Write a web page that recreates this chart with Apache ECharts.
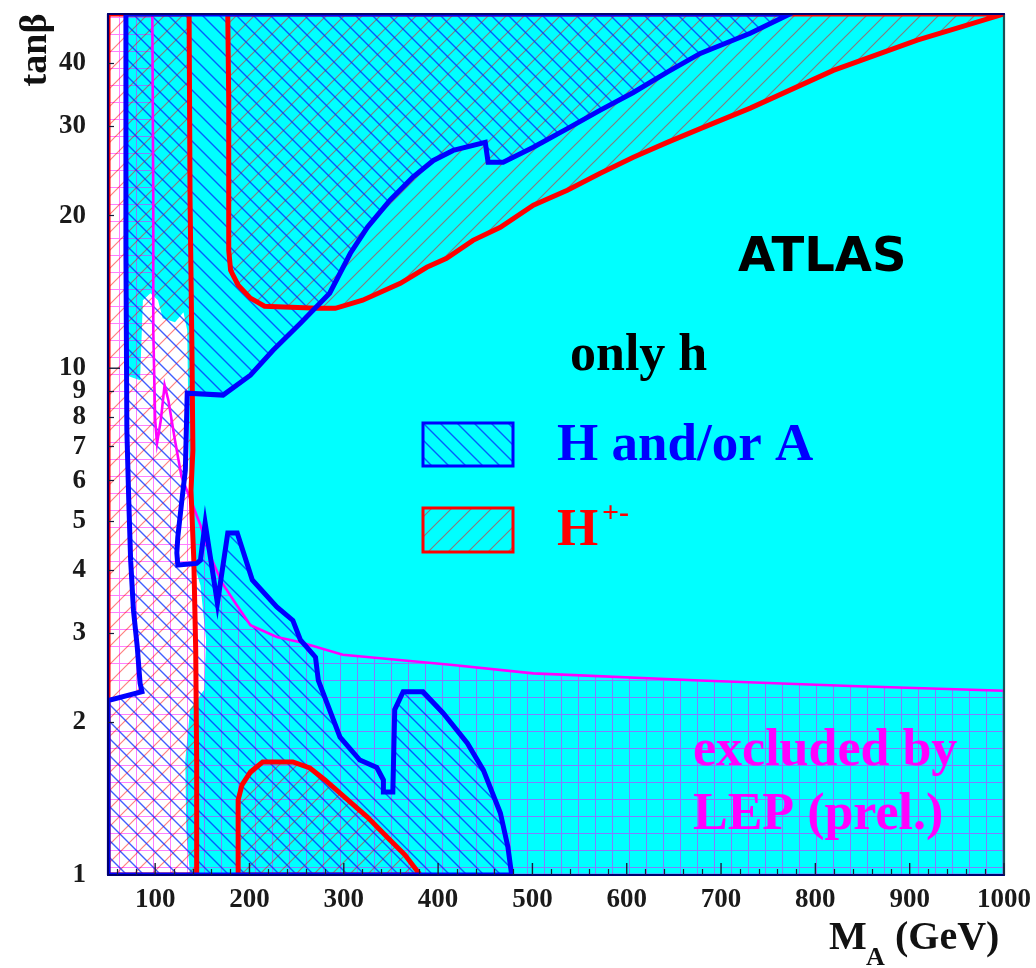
<!DOCTYPE html>
<html>
<head>
<meta charset="utf-8">
<script src="https://cdn.jsdelivr.net/npm/echarts@6/dist/echarts.min.js"></script>
<style>
html, body { margin: 0; padding: 0; background: #fff; }
#chart { width: 1036px; height: 968px; }
</style>
</head>
<body>
<div id="chart"></div>
<script>
// Axis ranges and tick labels
const massRange = [50, 1000];
const tanbRange = [1, 50];
const massLabels = [100, 200, 300, 400, 500, 600, 700, 800, 900, 1000];
const tanbLabels = [1, 2, 3, 4, 5, 6, 7, 8, 9, 10, 20, 30, 40];
const tanbMinorTicks = [2, 3, 4, 5, 6, 7, 8, 9, 20, 30, 40];
const tanbMajorTicks = [10];
const massMinorTicks = [];
for (let m = 60; m < 1000; m += 20) if (m % 100 !== 0) massMinorTicks.push(m);

// Region where only the light Higgs h is visible (cyan), [M_A, tanb]
const onlyHEdge = [
  [68, 50], [1000, 50], [1000, 1], [137, 1], [133, 1.227], [132, 1.686], [137, 2.12],
  [152, 2.32], [154, 2.91], [148, 3.73], [140, 4.18], [136, 6.29], [134, 11.88],
  [130, 12.9], [121, 12.32], [108, 12.55], [103, 13.62], [95, 14.06], [87, 13.62],
  [84, 9.47], [69, 9.69]
];

// H and/or A discovery region (closed contour)
const hAContour = [
  [69, 50], [69, 17.1], [70, 7.55], [72, 5.49], [74, 4.18], [77, 3.33], [81, 2.82],
  [84, 2.39], [86, 2.30], [50, 2.21], [50, 1], [478, 1],
  [474, 1.136], [466, 1.325], [448, 1.61], [431, 1.82], [405, 2.09], [384, 2.30],
  [363, 2.30], [354, 2.12], [352, 1.458], [342, 1.458], [342, 1.54], [335, 1.63],
  [317, 1.686], [296, 1.87], [273, 2.42], [270, 2.69], [254, 2.91], [246, 3.18],
  [229, 3.38], [203, 3.82], [187, 4.73], [177, 4.73], [166, 3.44], [153, 4.95],
  [148, 4.18], [144, 4.12], [124, 4.09], [123, 4.32], [124, 4.64], [128, 5.42],
  [132, 6.29], [134, 8.93], [172, 8.85], [201, 9.69], [225, 10.85], [254, 12.27],
  [285, 14.06], [307, 16.86], [325, 18.97], [349, 21.45], [373, 23.8], [395, 25.7],
  [416, 26.9], [450, 27.9], [453, 25.5], [469, 25.5], [501, 27.3], [537, 29.7],
  [572, 32.3], [607, 35.0], [643, 38.4], [678, 41.8], [731, 45.8], [773, 50]
];

// Charged Higgs discovery regions
const hChargedLow = [
  [50, 50], [136, 50], [137, 21.45], [139, 10.85], [140, 6.89], [138, 5.74],
  [141, 4.18], [143, 2.78], [144, 1.686], [144, 1], [50, 1]
];
const hChargedHigh = [
  [177, 50], [178, 33.8], [178, 17.1], [180, 15.6], [188, 14.58], [201, 13.75],
  [216, 13.25], [272, 13.13], [291, 13.13], [320, 13.62], [360, 14.71], [388, 15.82],
  [409, 16.48], [437, 17.88], [466, 18.97], [501, 20.97], [537, 22.44], [572, 24.25],
  [607, 26.08], [643, 27.9], [678, 29.7], [731, 32.6], [819, 38.7], [908, 44.4],
  [1000, 50]
];
const hChargedDome = [
  [188, 1], [188, 1.172], [188, 1.406], [192, 1.505], [201, 1.597], [214, 1.671],
  [246, 1.671], [264, 1.626], [280, 1.54], [296, 1.451], [325, 1.301], [349, 1.172],
  [365, 1.095], [381, 1]
];

// LEP (preliminary) exclusion boundary
const lepEdge = [
  [97, 50], [98, 21.45], [98, 11.88], [100, 7.90], [102, 7.11], [106, 7.90],
  [110, 9.26], [114, 8.65], [121, 7.21], [128, 6.10], [139, 5.42], [148, 4.90],
  [158, 4.28], [171, 3.77], [185, 3.44], [201, 3.11], [229, 2.95], [254, 2.88],
  [299, 2.72], [413, 2.60], [501, 2.50], [678, 2.42], [837, 2.36], [1000, 2.31]
];
const lepRegion = lepEdge.concat([[1000, 1], [50, 1], [50, 50]]);

// Hatch tiles
function makeTile(size, paint) {
  const c = document.createElement('canvas');
  c.width = size; c.height = size;
  paint(c.getContext('2d'), size);
  return c;
}
const gridTile = makeTile(17, (g, s) => {
  g.strokeStyle = 'rgba(255,0,255,0.5)'; g.lineWidth = 1;
  g.beginPath();
  g.moveTo(0.5, 0); g.lineTo(0.5, s);
  g.moveTo(1, 0.5); g.lineTo(s, 0.5);
  g.stroke();
});
function slashTile(size, color, width) {
  return makeTile(size, (g, s) => {
    g.strokeStyle = color; g.lineWidth = width;
    g.beginPath();
    g.moveTo(-1, s + 1); g.lineTo(s + 1, -1);
    g.moveTo(-1, 1); g.lineTo(1, -1);
    g.moveTo(s - 1, s + 1); g.lineTo(s + 1, s - 1);
    g.stroke();
  });
}
function backslashTile(size, color, width) {
  return makeTile(size, (g, s) => {
    g.strokeStyle = color; g.lineWidth = width;
    g.beginPath();
    g.moveTo(-1, -1); g.lineTo(s + 1, s + 1);
    g.moveTo(s - 1, -1); g.lineTo(s + 1, 1);
    g.moveTo(-1, s - 1); g.lineTo(1, s + 1);
    g.stroke();
  });
}
const redTile = slashTile(18, 'rgba(255,0,0,0.5)', 1.2);
const blueTile = backslashTile(17, 'rgba(0,40,255,0.75)', 1.4);
const pattern = (tile) => ({ image: tile, repeat: 'repeat' });

const CYAN = '#00ffff', BLUE = '#0000ff', RED = '#ff0000', MAGENTA = '#ff00ff';

// One custom series per shape; the whole outline is drawn from the first item
function shapeSeries(name, pts, kind, style, z) {
  return {
    type: 'custom', name, coordinateSystem: 'cartesian2d', clip: true, silent: true, z,
    data: pts,
    renderItem(params, api) {
      if (params.dataIndex !== 0) return null;
      return { type: kind, shape: { points: pts.map(p => api.coord(p)) }, style };
    }
  };
}

const series = [
  shapeSeries('only h', onlyHEdge, 'polygon', { fill: CYAN }, 1),
  shapeSeries('LEP fill', lepRegion, 'polygon', { fill: pattern(gridTile) }, 2),
  shapeSeries('H+- low fill', hChargedLow, 'polygon', { fill: pattern(redTile) }, 3),
  shapeSeries('H+- high fill', hChargedHigh, 'polygon', { fill: pattern(redTile) }, 3),
  shapeSeries('H+- dome fill', hChargedDome, 'polygon', { fill: pattern(redTile) }, 3),
  shapeSeries('H/A fill', hAContour, 'polygon', { fill: pattern(blueTile) }, 4),
  shapeSeries('LEP edge', lepRegion, 'polygon', { fill: null, stroke: MAGENTA, lineWidth: 2.6 }, 5),
  shapeSeries('H+- low edge', hChargedLow, 'polygon', { fill: null, stroke: RED, lineWidth: 5 }, 6),
  shapeSeries('H+- high edge', hChargedHigh, 'polygon', { fill: null, stroke: RED, lineWidth: 5 }, 6),
  shapeSeries('H+- dome edge', hChargedDome, 'polygon', { fill: null, stroke: RED, lineWidth: 5 }, 6),
  shapeSeries('H/A edge', hAContour, 'polygon', { fill: null, stroke: BLUE, lineWidth: 5 }, 7),
  {
    type: 'custom', name: 'mass major ticks', coordinateSystem: 'cartesian2d', silent: true, z: 12,
    data: massLabels,
    renderItem(params, api) {
      const p = api.coord([api.value(0), tanbRange[0]]);
      return { type: 'line', shape: { x1: p[0], y1: p[1], x2: p[0], y2: p[1] - 12 },
               style: { stroke: '#1a1a3a', lineWidth: 1.4 } };
    },
    encode: { x: 0 }
  },
  {
    type: 'custom', name: 'tanb major ticks', coordinateSystem: 'cartesian2d', silent: true, z: 12,
    data: tanbMajorTicks.map(v => [massRange[0], v]),
    renderItem(params, api) {
      const p = api.coord([massRange[0], api.value(1)]);
      return { type: 'line', shape: { x1: p[0], y1: p[1], x2: p[0] + 12, y2: p[1] },
               style: { stroke: '#1a1a3a', lineWidth: 1.4 } };
    }
  }
];

const FRAME = '#000070';
const tickFont = { fontFamily: 'Liberation Serif', fontSize: 27, fontWeight: 'bold', color: '#1a1a1a',
                   formatter: (v) => String(v) };

const option = {
  animation: false,
  backgroundColor: '#ffffff',
  grid: { left: 108, right: 32, top: 14, bottom: 93, containLabel: false, outerBoundsMode: 'none' },
  xAxis: [
    {
      type: 'value', min: massRange[0], max: massRange[1], position: 'bottom', z: 10,
      axisLine: { show: true, lineStyle: { color: FRAME, width: 2.2 } },
      axisTick: { show: true, inside: true, length: 6, customValues: massMinorTicks,
                  lineStyle: { color: '#1a1a3a', width: 1.2 } },
      axisLabel: Object.assign({ customValues: massLabels, margin: 12 }, tickFont),
      splitLine: { show: false }
    },
    {
      type: 'value', min: massRange[0], max: massRange[1], position: 'top', z: 10,
      axisLine: { show: true, lineStyle: { color: FRAME, width: 2.2 } },
      axisTick: { show: false }, axisLabel: { show: false }, splitLine: { show: false }
    }
  ],
  yAxis: [
    {
      type: 'log', logBase: 10, min: tanbRange[0], max: tanbRange[1], position: 'left', z: 10,
      axisLine: { show: true, lineStyle: { color: FRAME, width: 2.2 } },
      axisTick: { show: true, inside: true, length: 6, customValues: tanbMinorTicks,
                  lineStyle: { color: '#1a1a3a', width: 1.2 } },
      axisLabel: Object.assign({ customValues: tanbLabels, margin: 22 }, tickFont),
      splitLine: { show: false }, minorSplitLine: { show: false }
    },
    {
      type: 'log', logBase: 10, min: tanbRange[0], max: tanbRange[1], position: 'right', z: 10,
      axisLine: { show: true, lineStyle: { color: '#1f4f55', width: 2.2 } },
      axisTick: { show: false }, axisLabel: { show: false }, splitLine: { show: false }
    }
  ],
  series,
  graphic: [
    // axis titles
    { type: 'text', x: 36, y: 50, rotation: Math.PI / 2, z: 30,
      style: { text: 'tanβ', font: 'bold 38px "Liberation Serif"', fill: '#111', align: 'center', verticalAlign: 'middle' } },
    { type: 'text', x: 829, y: 939, z: 30,
      style: { text: 'M', font: 'bold 40px "Liberation Serif"', fill: '#111', align: 'left', verticalAlign: 'middle' } },
    { type: 'text', x: 866, y: 958, z: 30,
      style: { text: 'A', font: 'bold 26px "Liberation Serif"', fill: '#111', align: 'left', verticalAlign: 'middle' } },
    { type: 'text', x: 895, y: 939, z: 30,
      style: { text: '(GeV)', font: 'bold 40px "Liberation Serif"', fill: '#111', align: 'left', verticalAlign: 'middle' } },
    // annotations
    { type: 'text', x: 738, y: 259, z: 30,
      style: { text: 'ATLAS', font: 'bold 48px "DejaVu Sans"', fill: '#000', align: 'left', verticalAlign: 'middle' } },
    { type: 'text', x: 570, y: 357, z: 30,
      style: { text: 'only h', font: 'bold 52px "Liberation Serif"', fill: '#000', align: 'left', verticalAlign: 'middle' } },
    { type: 'text', x: 557, y: 446, z: 30,
      style: { text: 'H and/or A', font: 'bold 53px "Liberation Serif"', fill: BLUE, align: 'left', verticalAlign: 'middle' } },
    { type: 'text', x: 557, y: 531, z: 30,
      style: { text: 'H', font: 'bold 53px "Liberation Serif"', fill: RED, align: 'left', verticalAlign: 'middle' } },
    { type: 'text', x: 602, y: 514, z: 30,
      style: { text: '+-', font: 'bold 30px "Liberation Serif"', fill: RED, align: 'left', verticalAlign: 'middle' } },
    { type: 'text', x: 693, y: 752, z: 30,
      style: { text: 'excluded by', font: 'bold 52px "Liberation Serif"', fill: MAGENTA, align: 'left', verticalAlign: 'middle' } },
    { type: 'text', x: 693, y: 816, z: 30,
      style: { text: 'LEP (prel.)', font: 'bold 52px "Liberation Serif"', fill: MAGENTA, align: 'left', verticalAlign: 'middle' } },
    // legend boxes
    { type: 'rect', shape: { x: 423, y: 423, width: 90, height: 43 }, z: 30,
      style: { fill: CYAN, stroke: null } },
    { type: 'rect', shape: { x: 423, y: 423, width: 90, height: 43 }, z: 31,
      style: { fill: pattern(blueTile), stroke: BLUE, lineWidth: 3 } },
    { type: 'rect', shape: { x: 423, y: 508, width: 90, height: 44 }, z: 30,
      style: { fill: CYAN, stroke: null } },
    { type: 'rect', shape: { x: 423, y: 508, width: 90, height: 44 }, z: 31,
      style: { fill: pattern(slashTile(20, 'rgba(255,0,0,0.5)', 1.2)), stroke: RED, lineWidth: 3 } }
  ]
};

const chart = echarts.init(document.getElementById('chart'), null, { renderer: 'canvas' });
chart.setOption(option);
</script>
</body>
</html>
